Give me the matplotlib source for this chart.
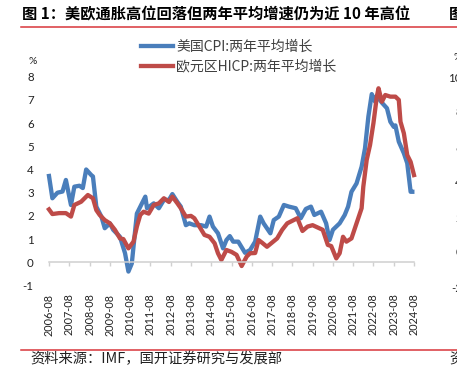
import matplotlib
matplotlib.use("Agg")
import matplotlib.pyplot as plt
from matplotlib.lines import Line2D

plt.rcParams['font.family'] = ['Lato', 'Noto Sans CJK SC', 'DejaVu Sans']

# two-year average growth (%)
us_dates = ["2006-08", "2006-10", "2007-01", "2007-04", "2007-06", "2007-09", "2007-11", "2008-02",
            "2008-04", "2008-06", "2008-09", "2008-10", "2008-12", "2009-03", "2009-05", "2009-08",
            "2009-10", "2010-02", "2010-05", "2010-07", "2010-09", "2010-12", "2011-03", "2011-05",
            "2011-06", "2011-10", "2012-01", "2012-04", "2012-07", "2012-09", "2012-12", "2013-02",
            "2013-05", "2013-07", "2013-10", "2014-02", "2014-05", "2014-07", "2014-09", "2014-12",
            "2015-03", "2015-05", "2015-07", "2015-09", "2015-12", "2016-04", "2016-07", "2016-10",
            "2017-01", "2017-03", "2017-07", "2017-09", "2017-12", "2018-03", "2018-06", "2018-10",
            "2019-01", "2019-04", "2019-07", "2019-09", "2020-01", "2020-04", "2020-06", "2020-08",
            "2020-12", "2021-03", "2021-05", "2021-07", "2021-10", "2022-01", "2022-03", "2022-05",
            "2022-07", "2022-09", "2022-10", "2023-01", "2023-04", "2023-06", "2023-08", "2023-09",
            "2023-11", "2024-02", "2024-04", "2024-06", "2024-07"]
us_cpi = [3.72, 2.76, 3.0, 3.05, 3.55, 2.47, 3.26, 3.3, 3.2, 4.0, 3.76, 3.7, 2.4, 1.97, 1.47, 1.68,
          1.4, 1.1, 0.39, -0.4, -0.05, 2.1, 2.54, 2.83, 2.33, 2.54, 2.33, 2.69, 2.69, 2.94, 2.6, 2.4,
          1.6, 1.68, 1.6, 1.6, 1.54, 1.97, 1.54, 1.25, 0.6, 0.96, 1.13, 0.89, 0.89, 0.41, 0.53, 0.89,
          1.97, 1.68, 1.25, 1.82, 1.97, 2.47, 2.4, 2.33, 1.9, 2.3, 2.4, 2.04, 2.18, 1.68, 0.96, 1.4,
          1.68, 2.04, 2.4, 3.04, 3.4, 4.12, 4.91, 6.28, 7.25, 6.92, 7.17, 6.88, 6.64, 6.06, 5.84, 5.9,
          5.2, 4.7, 4.27, 3.04, 3.04]

ez_dates = ["2006-08", "2006-10", "2007-02", "2007-06", "2007-09", "2007-11", "2008-03", "2008-07",
            "2008-10", "2008-12", "2009-02", "2009-05", "2009-08", "2009-11", "2010-02", "2010-04",
            "2010-07", "2010-10", "2010-12", "2011-02", "2011-04", "2011-07", "2011-10", "2012-01",
            "2012-04", "2012-07", "2012-09", "2012-12", "2013-02", "2013-05", "2013-08", "2013-10",
            "2014-01", "2014-04", "2014-07", "2014-10", "2014-12", "2015-02", "2015-05", "2015-08",
            "2015-11", "2016-02", "2016-05", "2016-07", "2016-10", "2016-12", "2017-02", "2017-05",
            "2017-08", "2017-11", "2018-02", "2018-05", "2018-08", "2018-11", "2019-02", "2019-05",
            "2019-08", "2019-11", "2020-02", "2020-05", "2020-07", "2020-10", "2020-12", "2021-02",
            "2021-04", "2021-07", "2021-10", "2022-01", "2022-02", "2022-04", "2022-06", "2022-08",
            "2022-10", "2022-11", "2023-01", "2023-03", "2023-06", "2023-09", "2023-11", "2023-12",
            "2024-02", "2024-04", "2024-06", "2024-08"]
ez_hicp = [2.28, 2.08, 2.12, 2.12, 1.97, 2.47, 2.61, 2.9, 2.76, 2.25, 2.04, 1.82, 1.68, 1.4, 1.03, 1.0,
           0.6, 0.89, 1.54, 2.04, 2.18, 2.1, 2.47, 2.54, 2.76, 2.6, 2.83, 2.54, 2.33, 1.97, 2.0, 1.9,
           1.54, 1.18, 1.1, 0.82, 0.39, 0.1, 0.53, 0.45, 0.32, -0.16, 0.25, 0.39, 0.4, 0.96, 0.85, 0.67,
           0.85, 1.03, 1.4, 1.68, 1.79, 1.9, 1.35, 1.54, 1.6, 1.5, 1.4, 0.75, 0.7, 0.17, 0.39, 1.1,
           0.89, 1.03, 1.68, 2.33, 3.26, 4.41, 5.06, 6.0, 7.14, 7.5, 6.92, 7.21, 7.14, 7.14, 7.0, 6.06,
           5.56, 4.62, 4.33, 3.76]

tick_years = list(range(2006, 2025))
tick_labels = [str(y) + "-08" for y in tick_years]
y_ticks = [-1, 0, 1, 2, 3, 4, 5, 6, 7, 8]


def month_idx(s):
    y, m = s.split("-")
    return (int(y) - 2006) * 12 + int(m) - 8


W, H = 457, 372
fig = plt.figure(figsize=(W / 100, H / 100), dpi=100)
ax = fig.add_axes([49 / W, 1 - 285.5 / H, 365 / W, 208.8 / H])

ax.plot([month_idx(d) for d in us_dates], us_cpi, color='#4A7EBB', lw=3.1,
        solid_joinstyle='round', label='美国CPI:两年平均增长', clip_on=False)
ax.plot([month_idx(d) for d in ez_dates], ez_hicp, color='#BE4B48', lw=3.1,
        solid_joinstyle='round', label='欧元区HICP:两年平均增长', clip_on=False)

ax.set_xlim(0, month_idx("2024-08"))
ax.set_ylim(-1, 8)
ax.set_yticks(y_ticks)
ax.set_yticklabels([str(v) for v in y_ticks])
ax.set_xticks([month_idx(l) for l in tick_labels])
ax.set_xticklabels(tick_labels)

for s in ['top', 'right', 'left']:
    ax.spines[s].set_visible(False)
ax.spines['bottom'].set_position(('data', 0))
ax.spines['bottom'].set_color('#D0D0D0')
ax.spines['bottom'].set_linewidth(1.1)
ax.tick_params(axis='x', direction='out', length=3, width=1, color='#D0D0D0',
               pad=19.5, labelsize=7.8, labelcolor='#222222', labelrotation=90)
ax.tick_params(axis='y', length=0, pad=11, labelsize=8.3, labelcolor='#222222')
for t in ax.get_yticklabels():
    t.set_horizontalalignment('right')

fig.text(33 / W, 1 - 62 / H, '%', fontsize=7.5, ha='center', va='center', color='#222222')

leg = fig.legend(loc='upper left', bbox_to_anchor=(141 / W, 1 - 40 / H), frameon=False,
                 borderpad=0, borderaxespad=0, handlelength=2.3, handletextpad=0.25,
                 labelspacing=0.4, prop={'family': ['Noto Sans CJK SC'], 'size': 10})
for t in leg.get_texts():
    t.set_color('#404040')

# title, rules and source
fig.text(22 / W, 1 - 14 / H, '图 1：美欧通胀高位回落但两年平均增速仍为近 10 年高位',
         fontsize=11, fontweight='bold', ha='left', va='center',
         family=['Noto Sans CJK SC', 'DejaVu Sans'])
fig.text(449 / W, 1 - 14 / H, '图', fontsize=11, fontweight='bold', ha='left', va='center',
         family=['Noto Sans CJK SC'])
fig.add_artist(Line2D([21 / W, 1], [1 - 27 / H, 1 - 27 / H], color='#D9353B', lw=1.1))
fig.add_artist(Line2D([21 / W, 1], [1 - 349.5 / H, 1 - 349.5 / H], color='#D9353B', lw=1.1))
fig.text(30 / W, 1 - 359 / H, '资料来源：IMF，国开证券研究与发展部', fontsize=10.3,
         ha='left', va='center', color='#222222', family=['Noto Sans CJK SC'])
fig.text(449 / W, 1 - 359 / H, '资', fontsize=10.3, ha='left', va='center', color='#222222',
         family=['Noto Sans CJK SC'])

# axis of the neighbouring chart, cut off at the right edge
right_ticks = ['%', '10', '8', '6', '4', '2', '0', '-2']
right_y = [57, 78, 113, 148, 183, 218, 253, 288]
for lab, yy in zip(right_ticks, right_y):
    fig.text(462 / W, 1 - yy / H, lab, fontsize=8.3 if lab != '%' else 7.5,
             ha='right', va='center', color='#222222')

fig.savefig('out.png', dpi=100)
